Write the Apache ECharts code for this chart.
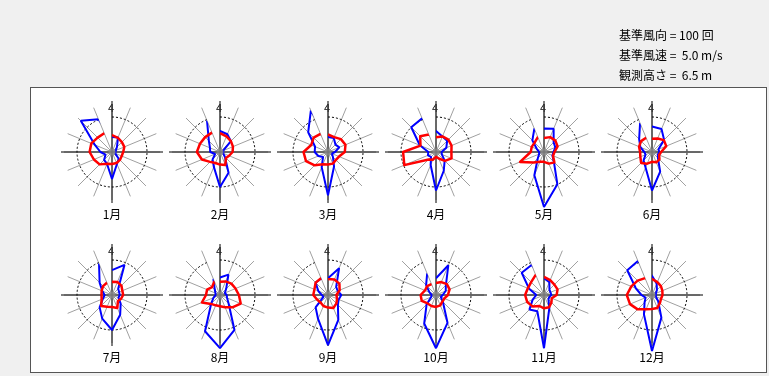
<!DOCTYPE html>
<html>
<head>
<meta charset="utf-8">
<script src="https://cdn.jsdelivr.net/npm/echarts@6/dist/echarts.min.js"></script>
<style>
  html, body { margin: 0; padding: 0; background: #f0f0f0; }
  #frame { position: absolute; left: 30px; top: 87px; width: 735px; height: 284px; background: #fff; border: 1px solid #555; }
  #chart { position: absolute; left: 0; top: 0; width: 769px; height: 376px; }
</style>
</head>
<body>
<div id="frame"></div>
<div id="chart"></div>
<script>
// 16方位 (北から時計回り)
const dirs = ['N', 'NNE', 'NE', 'ENE', 'E', 'ESE', 'SE', 'SSE', 'S', 'SSW', 'SW', 'WSW', 'W', 'WNW', 'NW', 'NNW'];
const months = ['1月', '2月', '3月', '4月', '5月', '6月', '7月', '8月', '9月', '10月', '11月', '12月'];
const headerLines = ['基準風向 = 100 回', '基準風速 =  5.0 m/s', '観測高さ =  6.5 m'];
const refFreq = 100;   // 基準風向 (回)
const refSpeed = 5.0;  // 基準風速 (m/s)

// 風向出現回数 (青)
const freq = [
  [43, 45, 20, 12, 10, 10, 27, 37, 77, 37, 32, 20, 33, 53, 126, 101],
  [60, 55, 44, 10, 8, 10, 20, 64, 100, 46, 30, 15, 28, 31, 45, 97],
  [43, 43, 30, 35, 20, 12, 20, 45, 124, 47, 20, 30, 38, 40, 80, 128],
  [60, 48, 45, 32, 16, 18, 35, 58, 110, 40, 20, 25, 22, 50, 100, 104],
  [67, 72, 39, 35, 27, 26, 40, 100, 157, 72, 25, 15, 14, 22, 47, 72],
  [73, 71, 49, 20, 21, 18, 24, 61, 110, 48, 34, 20, 22, 36, 52, 89],
  [71, 93, 25, 22, 22, 20, 35, 61, 100, 73, 50, 28, 21, 30, 50, 97],
  [50, 63, 25, 15, 19, 22, 35, 108, 152, 112, 36, 20, 12, 13, 21, 49],
  [48, 83, 33, 30, 38, 33, 40, 77, 143, 74, 50, 14, 14, 30, 50, 51],
  [48, 92, 40, 30, 19, 15, 28, 86, 152, 88, 38, 15, 12, 20, 40, 66],
  [48, 40, 22, 20, 21, 16, 18, 40, 152, 50, 59, 35, 22, 46, 90, 93],
  [55, 35, 20, 12, 10, 12, 25, 70, 160, 60, 30, 20, 30, 50, 100, 105]
];

// 平均風速 m/s (赤)
const speed = [
  [2.4, 2.2, 2.0, 1.9, 1.6, 1.5, 1.6, 1.7, 1.7, 1.8, 2.5, 2.8, 3.2, 3.2, 2.9, 2.9],
  [2.7, 2.4, 2.2, 2.0, 1.8, 1.4, 1.2, 2.0, 1.8, 1.7, 2.0, 2.8, 3.3, 3.1, 3.0, 3.0],
  [2.5, 2.3, 2.6, 2.7, 2.4, 1.7, 1.6, 1.8, 1.8, 1.9, 2.7, 3.4, 3.5, 2.6, 2.9, 2.8],
  [2.1, 2.4, 2.5, 2.4, 2.2, 2.4, 1.8, 1.0, 0.7, 1.2, 1.5, 4.9, 4.7, 2.4, 3.2, 2.7],
  [2.0, 2.3, 2.3, 2.1, 1.5, 1.4, 2.1, 1.8, 1.4, 1.5, 2.1, 3.7, 1.9, 1.9, 1.9, 2.3],
  [1.9, 2.1, 2.4, 2.2, 1.3, 1.1, 1.5, 1.6, 1.4, 1.8, 2.2, 1.8, 1.7, 2.0, 2.2, 2.2],
  [1.9, 2.0, 1.9, 1.6, 1.6, 1.4, 1.2, 2.0, 1.7, 1.8, 2.2, 1.6, 1.5, 1.6, 1.8, 1.9],
  [1.9, 2.1, 2.3, 2.4, 2.7, 3.2, 2.5, 1.9, 1.6, 1.6, 1.8, 2.8, 2.0, 2.0, 1.6, 2.1],
  [2.3, 2.4, 2.3, 1.8, 1.2, 1.4, 1.7, 2.0, 1.8, 1.7, 1.5, 1.7, 2.1, 2.1, 2.5, 2.6],
  [1.7, 2.0, 2.2, 2.1, 1.7, 1.3, 1.3, 1.6, 1.7, 1.7, 1.7, 2.2, 2.2, 1.7, 1.8, 1.7],
  [2.6, 2.3, 2.1, 2.1, 1.8, 1.2, 1.5, 1.9, 1.9, 1.7, 2.3, 2.6, 2.7, 2.5, 2.6, 3.1],
  [2.3, 2.0, 1.8, 1.6, 1.5, 1.4, 1.6, 2.0, 2.0, 2.2, 2.9, 3.4, 3.6, 3.2, 2.9, 2.6]
];

const R = 35;        // 基準円の半径
const RD = 70;       // データ用の極座標の半径 (基準の2倍)
const font = '"Noto Sans CJK JP", sans-serif';

function closed(values) {
  const pts = values.map((v, i) => [v, dirs[i]]);
  pts.push([values[0], dirs[0]]);
  return pts;
}

function hiddenAngle(idx, data) {
  return {
    polarIndex: idx, type: 'category', data: data, boundaryGap: false, startAngle: 90,
    axisLine: { show: false }, axisTick: { show: false }, axisLabel: { show: false }, splitLine: { show: false }
  };
}

const polar = [], angleAxis = [], radiusAxis = [], series = [], graphic = [];

months.forEach((m, i) => {
  const cx = 112 + (i % 6) * 108;
  const cy = i < 6 ? 152 : 295;
  const base = polar.length;

  // 0: 16方位の補助線, 1: 十字線, 2: 基準円, 3: 風向(青), 4: 風速(赤)
  polar.push({ center: [cx, cy], radius: 48 });
  polar.push({ center: [cx, cy], radius: 51 });
  polar.push({ center: [cx, cy], radius: R });
  polar.push({ center: [cx, cy], radius: RD });
  polar.push({ center: [cx, cy], radius: RD });

  const spokes = hiddenAngle(base, dirs);
  spokes.splitLine = { show: true, lineStyle: { color: '#a0a0a0', width: 1 } };
  angleAxis.push(spokes);

  const cross = hiddenAngle(base + 1, ['N', 'E', 'S', 'W']);
  cross.splitLine = { show: true, lineStyle: { color: '#000', width: 1 } };
  angleAxis.push(cross);

  const ring = hiddenAngle(base + 2, dirs);
  ring.axisLine = { show: true, lineStyle: { color: '#000', width: 1, type: [2, 2] } };
  angleAxis.push(ring);

  angleAxis.push(hiddenAngle(base + 3, dirs));
  angleAxis.push(hiddenAngle(base + 4, dirs));

  [0, 1, 2].forEach(k => radiusAxis.push({ polarIndex: base + k, min: 0, max: 1, show: false }));
  radiusAxis.push({ polarIndex: base + 3, min: 0, max: refFreq * RD / R, show: false });
  radiusAxis.push({ polarIndex: base + 4, min: 0, max: refSpeed * RD / R, show: false });

  series.push({
    type: 'line', coordinateSystem: 'polar', polarIndex: base + 3, clip: false,
    data: closed(freq[i]), symbol: 'none', silent: true,
    lineStyle: { color: '#0000ff', width: 2 }, z: 3
  });
  series.push({
    type: 'line', coordinateSystem: 'polar', polarIndex: base + 4, clip: false,
    data: closed(speed[i]), symbol: 'none', silent: true,
    lineStyle: { color: '#ff0000', width: 2.5, join: 'round' }, z: 4
  });
  // 静穏 (中心)
  series.push({
    type: 'scatter', coordinateSystem: 'polar', polarIndex: base + 3,
    data: [[0, dirs[0]]], symbol: 'circle', symbolSize: 7, silent: true,
    itemStyle: { color: '#8c8c8c' }, z: 5
  });

  graphic.push({
    type: 'text', x: cx - 1, y: cy - 44,
    style: { text: '4', font: '11px ' + font, fill: '#000', textAlign: 'center', textVerticalAlign: 'middle', align: 'center', verticalAlign: 'middle' }
  });
  graphic.push({
    type: 'text', x: cx, y: cy + 62,
    style: { text: m, font: '12px ' + font, fill: '#000', textAlign: 'center', textVerticalAlign: 'middle', align: 'center', verticalAlign: 'middle' }
  });
});

headerLines.forEach((t, k) => {
  graphic.push({
    type: 'text', x: 619, y: 35 + k * 20,
    style: { text: t, font: '12px ' + font, fill: '#000', textVerticalAlign: 'middle', verticalAlign: 'middle' }
  });
});

const chart = echarts.init(document.getElementById('chart'));
chart.setOption({
  animation: false,
  polar: polar,
  angleAxis: angleAxis,
  radiusAxis: radiusAxis,
  series: series,
  graphic: graphic
});
</script>
</body>
</html>
